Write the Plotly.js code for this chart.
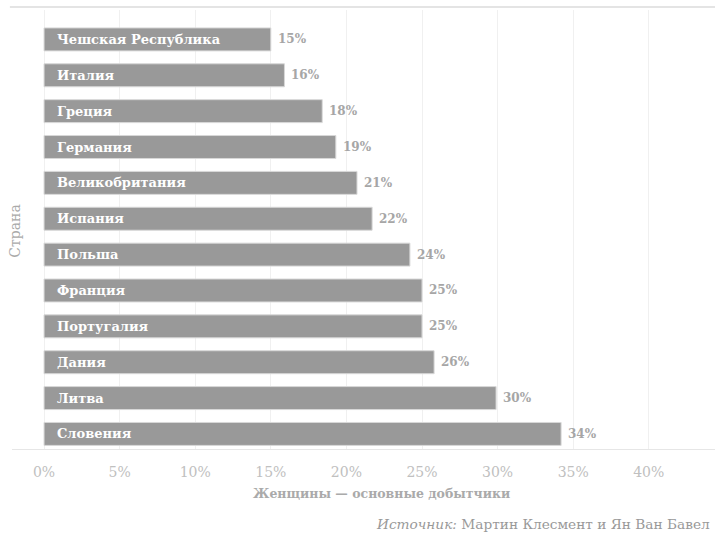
<!DOCTYPE html>
<html>
<head>
<meta charset="utf-8">
<script src="https://cdn.plot.ly/plotly-3.0.1.min.js"></script>
<style>html,body{margin:0;padding:0;background:#fff;}#chart{width:715px;height:539px;}</style>
</head>
<body>
<div id="chart"></div>
<script>
const countries = ["Чешская Республика","Италия","Греция","Германия","Великобритания","Испания","Польша","Франция","Португалия","Дания","Литва","Словения"];
const values = [15.0,15.9,18.4,19.3,20.7,21.7,24.2,25.0,25.0,25.8,29.9,34.2];
const valueLabels = ["15%","16%","18%","19%","21%","22%","24%","25%","25%","26%","30%","34%"];
const tickVals = [0,5,10,15,20,25,30,35,40];
const tickLabels = ["0%","5%","10%","15%","20%","25%","30%","35%","40%"];

const FONT = "DejaVu Serif, serif";
const nameAnns = countries.map((c,i)=>({
  x:0, y:c, xref:'x', yref:'y', text:'<b>'+c+'</b>', showarrow:false,
  xanchor:'left', yanchor:'middle', xshift:11,
  font:{family:FONT,size:13,color:'#ffffff'}
}));
const valAnns = countries.map((c,i)=>({
  x:values[i], y:c, xref:'x', yref:'y', text:'<b>'+valueLabels[i]+'</b>', showarrow:false,
  xanchor:'left', yanchor:'middle', xshift:5,
  font:{family:FONT,size:12,color:'#a6a6a6'}
}));

const data = [{
  type:'bar', orientation:'h', y:countries, x:values,
  marker:{color:'#999999', line:{color:'#d8d8d8', width:1}},
  hoverinfo:'none'
}];

const layout = {
  width:715, height:539,
  margin:{l:12,r:0,t:10,b:90},
  paper_bgcolor:'#ffffff', plot_bgcolor:'#ffffff',
  showlegend:false,
  bargap:0.36,
  xaxis:{
    range:[-2.12,44.38], tickvals:tickVals, ticktext:tickLabels,
    showgrid:true, gridcolor:'#f0f0f0', gridwidth:1, zeroline:false,
    showline:true, linecolor:'#e6e6e6', linewidth:1,
    ticks:'', ticklabelstandoff:10,
    tickfont:{family:FONT,size:14,color:'#c0c0c0'},
    fixedrange:true
  },
  yaxis:{
    type:'category', categoryorder:'array', categoryarray:countries,
    range:[11.42,-0.82], showticklabels:false, showgrid:false, zeroline:false,
    ticks:'', fixedrange:true
  },
  shapes:[{type:'line', xref:'paper', yref:'paper', x0:-0.003, x1:1, y0:1.0068, y1:1.0068,
    line:{color:'#e4e4e4', width:2}}],
  annotations: nameAnns.concat(valAnns).concat([
    {xref:'paper', yref:'paper', x:0.0043, y:0.495, text:'Страна', textangle:-90, showarrow:false,
     xanchor:'center', yanchor:'middle', font:{family:FONT,size:14,color:'#aaaaaa'}},
    {xref:'paper', yref:'paper', x:0.5263, y:-0.1025, text:'<b>Женщины — основные добытчики</b>', showarrow:false,
     xanchor:'center', yanchor:'middle', font:{family:FONT,size:12.5,color:'#aaaaaa'}},
    {xref:'paper', yref:'paper', x:0.9957, y:-0.171, text:'<i>Источник:</i> Мартин Клесмент и Ян Ван Бавел', showarrow:false,
     xanchor:'right', yanchor:'middle', font:{family:FONT,size:13.7,color:'#999999'}}
  ])
};

Plotly.newPlot('chart', data, layout, {displayModeBar:false, staticPlot:true});
</script>
</body>
</html>
